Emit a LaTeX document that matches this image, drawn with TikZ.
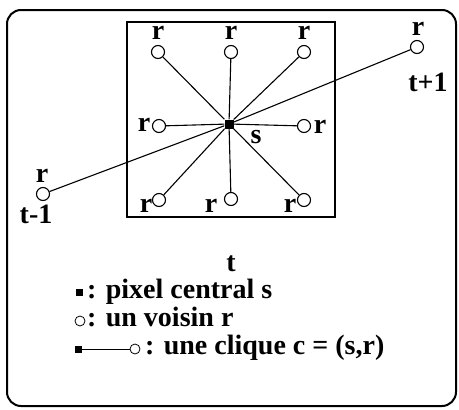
\documentclass[tikz,border=0pt]{standalone}
\usepackage{fontspec}
\setmainfont{Liberation Serif}
\usetikzlibrary{positioning}

\begin{document}
\begin{tikzpicture}[x=1pt,y=-1pt,
    nbr/.style={circle,draw,inner sep=0pt,minimum size=13pt,line width=1.1pt},
    pix/.style={rectangle,fill=black,inner sep=0pt,minimum size=9pt},
    lbl/.style={inner sep=0pt,font=\fontsize{28}{32}\selectfont\bfseries},
    link/.style={line width=1.1pt}]
    \useasboundingbox (0,0) rectangle (459,410);
    % frames
    \draw[line width=2pt,rounded corners=14pt] (7,10) rectangle (456,406);
    \draw[line width=1.1pt] (127,22) rectangle (335,217);
    % pixel s and its neighbours
    \node[pix] (s) at (229,124) {};
    \node[nbr] (nw) at (158,52) {};
    \node[nbr] (n) at (231,52) {};
    \node[nbr] (ne) at (304,52) {};
    \node[nbr] (w) at (159,126) {};
    \node[nbr] (e) at (304,126) {};
    \node[nbr] (sw) at (159,200) {};
    \node[nbr] (so) at (231,199) {};
    \node[nbr] (se) at (304,200) {};
    \node[nbr] (tp) at (417,47) {};
    \node[nbr] (tm) at (43,194) {};
    \foreach \v in {nw,n,ne,w,e,sw,so,se,tp,tm}
      \draw[link] (s) -- (\v);
    % labels
    \node[lbl] at (158,33) {r};
    \node[lbl] at (231,33) {r};
    \node[lbl] at (304,33) {r};
    \node[lbl] at (144,125) {r};
    \node[lbl] at (320,127) {r};
    \node[lbl] at (146,206) {r};
    \node[lbl] at (211,206) {r};
    \node[lbl] at (290,206) {r};
    \node[lbl] at (256,137) {s};
    \node[lbl] at (418,29) {r};
    \node[lbl] at (428,82) {t+1};
    \node[lbl] at (42,176) {r};
    \node[lbl] at (36,214) {t-1};
    \node[lbl] at (231,264) {t};
    % legend
    \node[pix,minimum size=7pt] (ks) at (79,292) {};
    \node[lbl,anchor=base west] (kt1) at (87,298) {: pixel central s};
    \node[nbr,minimum size=10pt,line width=0.8pt] (kc) at (80,321) {};
    \node[lbl,anchor=base west] (kt2) at (87,326) {: un voisin r};
    \node[pix,minimum size=7pt] (ls) at (78,349) {};
    \node[nbr,minimum size=10pt,line width=0.8pt] (lc) at (135,349) {};
    \draw[line width=0.8pt] (ls) -- (lc);
    \node[lbl,anchor=base west] (kt3) at (145,354) {: une clique c = (s,r)};
\end{tikzpicture}
\end{document}
